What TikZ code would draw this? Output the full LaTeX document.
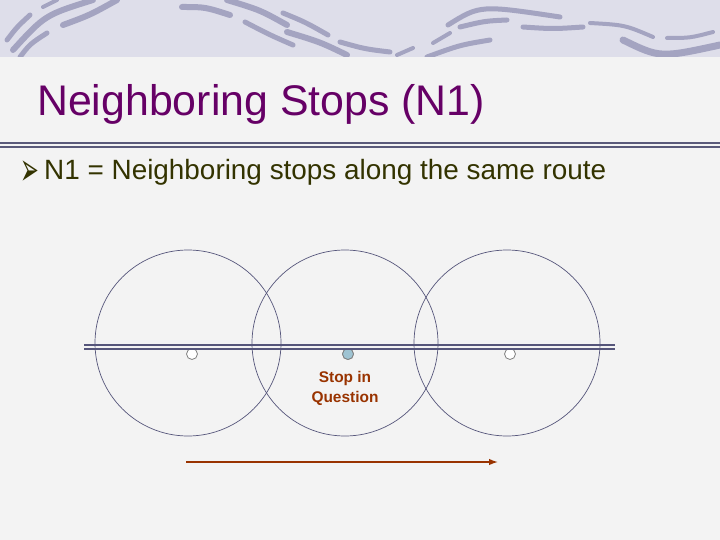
\documentclass[tikz,border=0pt]{standalone}
\usepackage{fontspec}
\usepackage{graphicx}
\setmainfont{Liberation Sans}
\newfontfamily\markfont{DejaVu Sans}
\usetikzlibrary{arrows.meta}
\definecolor{paper}{HTML}{F3F3F3}
\definecolor{banner}{HTML}{DEDEEA}
\definecolor{swooshcol}{HTML}{9A9ABA}
\definecolor{titlecol}{HTML}{660066}
\definecolor{textcol}{HTML}{333300}
\definecolor{rulecol}{HTML}{5A5A7A}
\definecolor{ringcol}{HTML}{55557A}
\definecolor{stopbrown}{HTML}{993300}
\definecolor{stopblue}{HTML}{9EC3D2}
\tikzset{
  swoosh/.style={draw=swooshcol, line cap=round, opacity=0.85, line width=#1},
  swoosh/.default=5bp,
  ring/.style={draw=ringcol, line width=0.7bp},
  stop/.style={circle, draw=gray, line width=0.8bp, fill=white, minimum size=11bp, inner sep=0pt},
  heading/.style={draw=stopbrown, line width=1.4bp, -{Latex[length=9bp,width=6.5bp]}}
}

\begin{document}
\begin{tikzpicture}[x=1bp,y=-1bp]
\useasboundingbox (0,0) rectangle (720,540);
\fill[paper] (0,0) rectangle (720,540);
\fill[banner] (0,0) rectangle (720,57);
\begin{scope}
\clip (0,0) rectangle (720,57);
\draw[swoosh] (7,40) .. controls (17,27) .. (30,15);
\draw[swoosh] (20,57) .. controls (30,44) .. (47,33);
\draw[swoosh=6bp] (13,50) .. controls (45,15) .. (93,0);
\draw[swoosh=6bp] (63,25) .. controls (90,15) .. (117,0);
\draw[swoosh=4bp] (43,7) .. controls (50,3) .. (57,0);
\draw[swoosh=6bp] (182,7) .. controls (205,7) .. (230,15);
\draw[swoosh=6bp] (227,0) .. controls (260,10) .. (287,25);
\draw[swoosh] (245,22) .. controls (270,35) .. (293,45);
\draw[swoosh] (283,13) .. controls (305,22) .. (328,35);
\draw[swoosh=6bp] (287,32) .. controls (320,42) .. (347,55);
\draw[swoosh] (340,42) .. controls (365,49) .. (390,52);
\draw[swoosh=4bp] (397,55) .. controls (405,51) .. (413,48);
\draw[swoosh=4bp] (433,43) .. controls (441,38) .. (450,33);
\draw[swoosh] (427,57) .. controls (460,45) .. (490,40);
\draw[swoosh] (448,25) .. controls (480,5) .. (560,17);
\draw[swoosh] (460,27) .. controls (485,21) .. (507,20);
\draw[swoosh] (523,27) .. controls (553,29) .. (583,27);
\draw[swoosh=4bp] (590,23) .. controls (625,25) .. (653,37);
\draw[swoosh=7bp] (623,40) .. controls (660,58) .. (720,45);
\draw[swoosh=4bp] (667,38) .. controls (690,38) .. (713,32);
\end{scope}
% title and rule
\node[anchor=base west, inner sep=0pt, text=titlecol, font=\fontsize{43}{50}\selectfont] (title) at (37,116) {Neighboring Stops (N1)};
\coordinate (rl) at (0,145);
\coordinate (rr) at (720,145);
\draw[rulecol, line width=1.5bp, double=paper, double distance=2.2bp] (rl) -- (rr);
\node[anchor=base west, inner sep=0pt, text=textcol, font=\markfont\fontsize{30}{34}\selectfont] (mark) at (20,180) {\raisebox{-5.6bp}{\scalebox{0.75}[1.55]{➢}}};
\node[anchor=base west, inner sep=0pt, text=textcol, font=\fontsize{28}{32}\selectfont] (point) at (44,180) {N1 = Neighboring stops along the same route};
% stops on the route
\foreach \n/\x in {a/188,b/345,c/507}
  \coordinate (\n) at (\x,343);
\foreach \n/\x in {a/192,b/348,c/510}
  \node[stop] (s\n) at (\x,354) {};
\node[stop, fill=stopblue] at (sb) {};
\coordinate (w) at (84,347);
\coordinate (e) at (615,347);
\draw[ringcol, line width=1.5bp, double=paper, double distance=2.2bp] (w) -- (e);
\foreach \n in {a,b,c}
  \draw[ring] (\n) circle[radius=93];
\node[text=stopbrown, align=center, inner sep=0pt, font=\bfseries\fontsize{15.5}{20}\selectfont] (q) at (345,388) {Stop in\\Question};
\coordinate (from) at (186,462);
\coordinate (to) at (498,462);
\draw[heading] (from) -- (to);
\end{tikzpicture}
\end{document}
